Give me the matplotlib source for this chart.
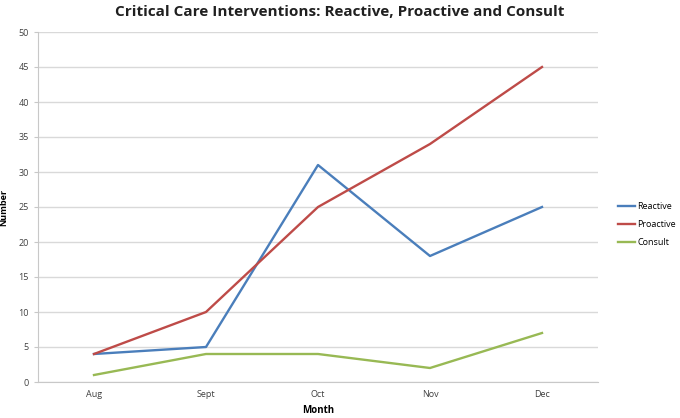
import matplotlib
matplotlib.use("Agg")
import matplotlib.pyplot as plt

months = ["Aug", "Sept", "Oct", "Nov", "Dec"]
reactive = [4, 5, 31, 18, 25]
proactive = [4, 10, 25, 34, 45]
consult = [1, 4, 4, 2, 7]

plt.rcParams['font.family'] = ['Open Sans', 'DejaVu Sans']

fig = plt.figure(figsize=(6.8, 4.18), dpi=100)
ax = fig.add_axes([38/680, 1-382/418, 560/680, 350/418])

x = list(range(len(months)))
ax.plot(x, reactive, color="#4A7EBB", lw=1.7, label="Reactive")
ax.plot(x, proactive, color="#BE4B48", lw=1.7, label="Proactive")
ax.plot(x, consult, color="#98B954", lw=1.7, label="Consult")

ax.set_xlim(-0.5, 4.5)
ax.set_ylim(0, 50)
ax.set_yticks(range(0, 51, 5))
ax.set_xticks(x)
ax.set_xticklabels(months)
ax.yaxis.grid(True, color="#D9D9D9", lw=1)
ax.set_axisbelow(True)
for s in ["top", "right"]:
    ax.spines[s].set_visible(False)
for s in ["left", "bottom"]:
    ax.spines[s].set_color("#C8C8C8")
ax.tick_params(axis="both", labelsize=6.5, colors="#C8C8C8", labelcolor="#404040", length=3)
ax.tick_params(axis="x", length=0, pad=6)

ax.set_xlabel("Month", fontsize=7, fontweight="bold", labelpad=4)
ax.set_ylabel("Number", fontsize=6.5, fontweight="bold")
ax.yaxis.set_label_coords(-0.054, 0.5)
fig.text(0.5, 0.972, "Critical Care Interventions: Reactive, Proactive and Consult",
         ha="center", va="center", fontsize=11, fontweight="bold", color="#202020")

ax.legend(loc="center left", bbox_to_anchor=(1.029, 0.449), frameon=False,
          fontsize=6.5, handlelength=1.9, handletextpad=0.25, labelspacing=1.0,
          borderaxespad=0)

fig.savefig("out.png", dpi=100)
